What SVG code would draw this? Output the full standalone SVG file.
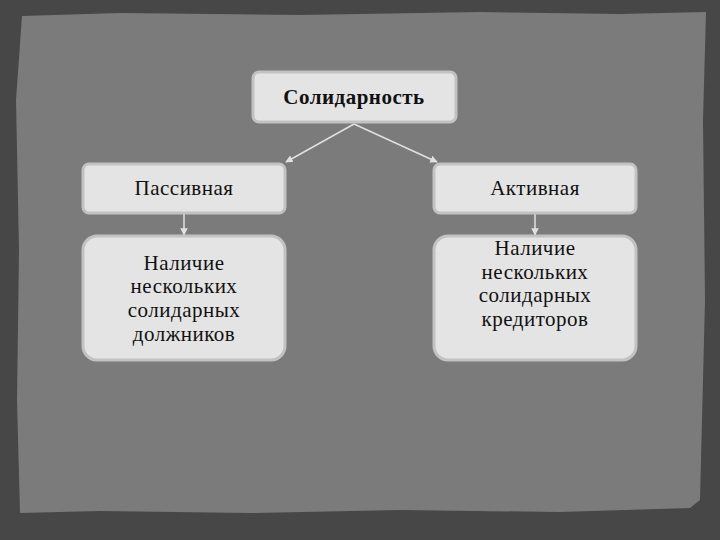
<svg xmlns="http://www.w3.org/2000/svg" width="720" height="540" viewBox="0 0 720 540">
<style>
.box{fill:#e4e4e4;stroke:#c2c2c2;stroke-width:3}
.t{font-family:"Liberation Serif","DejaVu Serif",serif;font-size:21px;letter-spacing:0.5px;fill:#111;text-anchor:middle}
.b{font-weight:bold}
.c{stroke:#e0e0e0;stroke-width:1.5;fill:none;marker-end:url(#ah)}
</style>
<defs>
<marker id="ah" viewBox="0 0 10 10" refX="9" refY="5" markerWidth="5" markerHeight="5" orient="auto">
<path d="M0,0 L10,5 L0,10 z" fill="#e0e0e0"/>
</marker>
</defs>
<rect width="720" height="540" fill="#474747"/>
<path d="M22,16 L120,13 L300,15 L480,12 L620,14 L706,12 L703,120 L705,300 L702,420 L700,500 L690,508 L560,512 L400,510 L250,513 L100,511 L20,513 L17,400 L19,250 L16,100 Z" fill="#7b7b7b"/>
<g id="connectors">
<line class="c" x1="354" y1="124" x2="286" y2="162"/>
<line class="c" x1="354" y1="124" x2="437" y2="162"/>
<line class="c" x1="184" y1="214" x2="184" y2="235"/>
<line class="c" x1="535" y1="214" x2="535" y2="235"/>
</g>
<g id="n1"><rect class="box" x="253" y="72" width="203" height="50" rx="6"/><text class="t b" x="354" y="104">Солидарность</text></g>
<g id="n2"><rect class="box" x="83" y="164" width="202" height="49" rx="6"/><text class="t" x="184" y="195">Пассивная</text></g>
<g id="n3"><rect class="box" x="434" y="164" width="202" height="49" rx="6"/><text class="t" x="535" y="195">Активная</text></g>
<g id="n4"><rect class="box" x="83" y="236" width="202" height="124" rx="14"/>
<text class="t" x="184" y="270">Наличие</text><text class="t" x="184" y="293">нескольких</text><text class="t" x="184" y="317">солидарных</text><text class="t" x="184" y="341">должников</text></g>
<g id="n5"><rect class="box" x="434" y="236" width="202" height="124" rx="14"/>
<text class="t" x="535" y="255">Наличие</text><text class="t" x="535" y="279">нескольких</text><text class="t" x="535" y="302">солидарных</text><text class="t" x="535" y="326">кредиторов</text></g>
</svg>
